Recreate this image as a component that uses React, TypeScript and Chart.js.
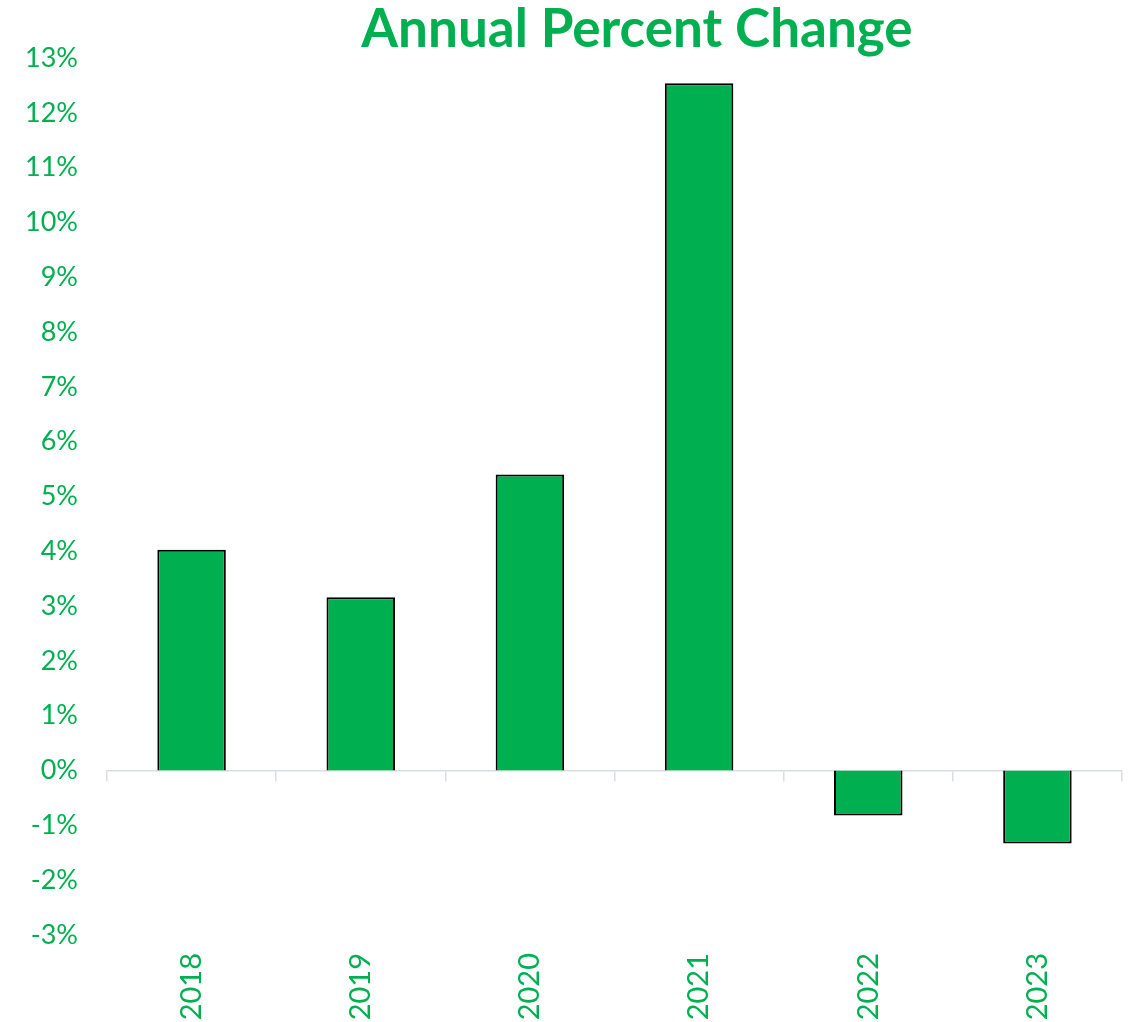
import React, { useEffect, useRef } from "react";
import { Chart, registerables } from "chart.js";

Chart.register(...registerables);

const TITLE = "Annual Percent Change";
const YEARS = ["2018", "2019", "2020", "2021", "2022", "2023"];
const CHANGE_PCT = [4.03, 3.16, 5.4, 12.54, -0.82, -1.33];
const Y_MIN = -3;
const Y_MAX = 13;
const GREEN = "#00B050";

const titlePlugin = {
  id: "customTitle",
  afterDraw(chart: any) {
    const ctx = chart.ctx;
    ctx.save();
    ctx.font = "bold 53px Lato";
    ctx.fillStyle = GREEN;
    ctx.textAlign = "center";
    ctx.textBaseline = "alphabetic";
    ctx.fillText(TITLE, 637, 47);
    ctx.restore();
  },
};

export default function App() {
  const ref = useRef<HTMLCanvasElement | null>(null);
  useEffect(() => {
    if (!ref.current) return;
    const chart = new Chart(ref.current, {
      type: "bar",
      data: {
        labels: YEARS,
        datasets: [
          {
            data: CHANGE_PCT,
            backgroundColor: GREEN,
            borderColor: "#000000",
            borderWidth: 2,
            barPercentage: 0.405,
            categoryPercentage: 1,
            xAxisID: "x",
            yAxisID: "y",
          },
        ],
      },
      options: {
        animation: false,
        responsive: false,
        maintainAspectRatio: false,
        layout: { padding: { top: 58, right: 10, left: 0, bottom: 0 } },
        plugins: { legend: { display: false }, title: { display: false }, tooltip: { enabled: false } },
        scales: {
          x: {
            type: "category",
            position: "bottom",
            grid: { display: false },
            border: { display: false },
            ticks: {
              color: GREEN,
              font: { family: "Lato", size: 29 },
              minRotation: 90,
              maxRotation: 90,
              padding: 10,
            },
            afterFit(scale: any) {
              scale.height = 87;
            },
          },
          x2: {
            type: "category",
            labels: YEARS,
            offset: true,
            position: { y: 0 },
            grid: {
              display: true,
              drawOnChartArea: false,
              drawTicks: true,
              tickLength: 10,
              color: "#D9DEE5",
              lineWidth: 1.5,
              offset: true,
            },
            border: { display: true, color: "#D9DEE5", width: 1.5 },
            ticks: { display: false },
          },
          y: {
            type: "linear",
            min: Y_MIN,
            max: Y_MAX,
            grid: { display: false },
            border: { display: false },
            ticks: {
              stepSize: 1,
              color: GREEN,
              font: { family: "Lato", size: 27 },
              padding: 21,
              callback: (v: any) => `${v}%`,
            },
            afterFit(scale: any) {
              scale.width = 107;
            },
          },
        },
      } as any,
      plugins: [titlePlugin],
    });
    return () => chart.destroy();
  }, []);
  return (
    <div style={{ position: "fixed", left: 0, top: 0, width: 1132, height: 1022, background: "#fff" }}>
      <canvas ref={ref} width={1132} height={1022} style={{ width: 1132, height: 1022 }} />
    </div>
  );
}
